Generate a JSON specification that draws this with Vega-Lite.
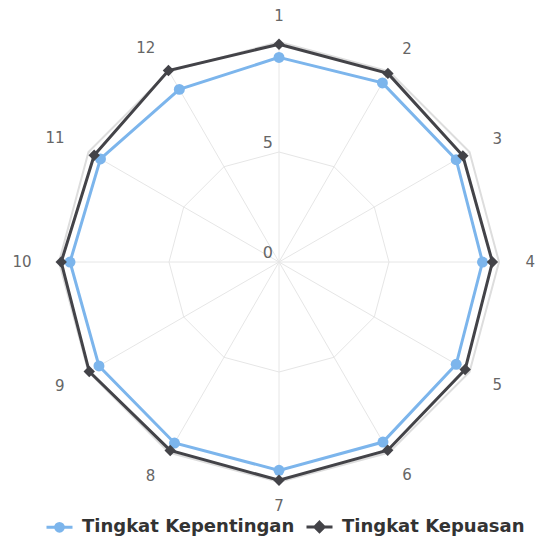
{
  "$schema": "https://vega.github.io/schema/vega-lite/v6.json",
  "width": 535,
  "height": 538,
  "autosize": {"type": "none"},
  "padding": 0,
  "background": "white",
  "config": {"view": {"stroke": null}},
  "datasets": {
    "scores": [
      {"axis": 1, "series": "Tingkat Kepentingan", "value": 9.3},
      {"axis": 2, "series": "Tingkat Kepentingan", "value": 9.4},
      {"axis": 3, "series": "Tingkat Kepentingan", "value": 9.3},
      {"axis": 4, "series": "Tingkat Kepentingan", "value": 9.25},
      {"axis": 5, "series": "Tingkat Kepentingan", "value": 9.3},
      {"axis": 6, "series": "Tingkat Kepentingan", "value": 9.45},
      {"axis": 7, "series": "Tingkat Kepentingan", "value": 9.47},
      {"axis": 8, "series": "Tingkat Kepentingan", "value": 9.5},
      {"axis": 9, "series": "Tingkat Kepentingan", "value": 9.45},
      {"axis": 10, "series": "Tingkat Kepentingan", "value": 9.5},
      {"axis": 11, "series": "Tingkat Kepentingan", "value": 9.37},
      {"axis": 12, "series": "Tingkat Kepentingan", "value": 9.06},
      {"axis": 1, "series": "Tingkat Kepuasan", "value": 9.9},
      {"axis": 2, "series": "Tingkat Kepuasan", "value": 9.9},
      {"axis": 3, "series": "Tingkat Kepuasan", "value": 9.65},
      {"axis": 4, "series": "Tingkat Kepuasan", "value": 9.7},
      {"axis": 5, "series": "Tingkat Kepuasan", "value": 9.77},
      {"axis": 6, "series": "Tingkat Kepuasan", "value": 9.88},
      {"axis": 7, "series": "Tingkat Kepuasan", "value": 9.92},
      {"axis": 8, "series": "Tingkat Kepuasan", "value": 9.89},
      {"axis": 9, "series": "Tingkat Kepuasan", "value": 9.96},
      {"axis": 10, "series": "Tingkat Kepuasan", "value": 9.9},
      {"axis": 11, "series": "Tingkat Kepuasan", "value": 9.7},
      {"axis": 12, "series": "Tingkat Kepuasan", "value": 10.05}
    ],
    "grid": [
      {"axis": 1, "value": 5}, {"axis": 2, "value": 5}, {"axis": 3, "value": 5}, {"axis": 4, "value": 5},
      {"axis": 5, "value": 5}, {"axis": 6, "value": 5}, {"axis": 7, "value": 5}, {"axis": 8, "value": 5},
      {"axis": 9, "value": 5}, {"axis": 10, "value": 5}, {"axis": 11, "value": 5}, {"axis": 12, "value": 5},
      {"axis": 1, "value": 10}, {"axis": 2, "value": 10}, {"axis": 3, "value": 10}, {"axis": 4, "value": 10},
      {"axis": 5, "value": 10}, {"axis": 6, "value": 10}, {"axis": 7, "value": 10}, {"axis": 8, "value": 10},
      {"axis": 9, "value": 10}, {"axis": 10, "value": 10}, {"axis": 11, "value": 10}, {"axis": 12, "value": 10}
    ],
    "labels": [
      {"axis": 1, "label": "1"}, {"axis": 2, "label": "2"}, {"axis": 3, "label": "3"}, {"axis": 4, "label": "4"},
      {"axis": 5, "label": "5"}, {"axis": 6, "label": "6"}, {"axis": 7, "label": "7"}, {"axis": 8, "label": "8"},
      {"axis": 9, "label": "9"}, {"axis": 10, "label": "10"}, {"axis": 11, "label": "11"}, {"axis": 12, "label": "12"}
    ],
    "radial": [{"value": 0, "label": "0"}, {"value": 5, "label": "5"}]
  },
  "encoding": {
    "x": {"field": "x", "type": "quantitative", "scale": {"domain": [-12.682, 11.636], "nice": false, "zero": false}, "axis": null},
    "y": {"field": "y", "type": "quantitative", "scale": {"domain": [-12.545, 11.909], "nice": false, "zero": false}, "axis": null}
  },
  "layer": [
    {
      "data": {"name": "grid"},
      "transform": [
        {"filter": "datum.value == 10"},
        {"calculate": "(datum.axis - 1) * PI / 6", "as": "a"},
        {"calculate": "datum.value * sin(datum.a)", "as": "x"},
        {"calculate": "datum.value * cos(datum.a)", "as": "y"}
      ],
      "mark": {"type": "rule", "stroke": "#e6e6e6", "strokeWidth": 1},
      "encoding": {
        "x": {"datum": 0, "type": "quantitative"},
        "y": {"datum": 0, "type": "quantitative"},
        "x2": {"field": "x"},
        "y2": {"field": "y"}
      }
    },
    {
      "data": {"name": "grid"},
      "transform": [
        {"filter": "datum.value == 5"},
        {"calculate": "(datum.axis - 1) * PI / 6", "as": "a"},
        {"calculate": "datum.value * sin(datum.a)", "as": "x"},
        {"calculate": "datum.value * cos(datum.a)", "as": "y"}
      ],
      "mark": {"type": "line", "interpolate": "linear-closed", "stroke": "#e6e6e6", "strokeWidth": 1},
      "encoding": {"order": {"field": "axis", "type": "quantitative"}}
    },
    {
      "data": {"name": "grid"},
      "transform": [
        {"filter": "datum.value == 10"},
        {"calculate": "(datum.axis - 1) * PI / 6", "as": "a"},
        {"calculate": "datum.value * sin(datum.a)", "as": "x"},
        {"calculate": "datum.value * cos(datum.a)", "as": "y"}
      ],
      "mark": {"type": "line", "interpolate": "linear-closed", "stroke": "#dddddd", "strokeWidth": 2},
      "encoding": {"order": {"field": "axis", "type": "quantitative"}}
    },
    {
      "data": {"name": "radial"},
      "transform": [
        {"calculate": "0", "as": "x"},
        {"calculate": "datum.value", "as": "y"}
      ],
      "mark": {"type": "text", "align": "right", "baseline": "alphabetic", "dx": -6, "dy": -4, "font": "DejaVu Sans", "fontSize": 16, "fill": "#666666"},
      "encoding": {"text": {"field": "label", "type": "nominal"}}
    },
    {
      "data": {"name": "labels"},
      "transform": [
        {"filter": "datum.axis == 1 || datum.axis == 7"},
        {"calculate": "(datum.axis - 1) * PI / 6", "as": "a"},
        {"calculate": "11.15 * sin(datum.a)", "as": "x"},
        {"calculate": "11.15 * cos(datum.a)", "as": "y"}
      ],
      "mark": {"type": "text", "align": "center", "baseline": "middle", "dy": -1, "font": "DejaVu Sans", "fontSize": 15, "fill": "#666666"},
      "encoding": {"text": {"field": "label", "type": "nominal"}}
    },
    {
      "data": {"name": "labels"},
      "transform": [
        {"filter": "datum.axis > 1 && datum.axis < 7"},
        {"calculate": "(datum.axis - 1) * PI / 6", "as": "a"},
        {"calculate": "11.2 * sin(datum.a)", "as": "x"},
        {"calculate": "11.2 * cos(datum.a)", "as": "y"}
      ],
      "mark": {"type": "text", "align": "left", "baseline": "middle", "font": "DejaVu Sans", "fontSize": 15, "fill": "#666666"},
      "encoding": {"text": {"field": "label", "type": "nominal"}}
    },
    {
      "data": {"name": "labels"},
      "transform": [
        {"filter": "datum.axis > 7"},
        {"calculate": "(datum.axis - 1) * PI / 6", "as": "a"},
        {"calculate": "11.25 * sin(datum.a)", "as": "x"},
        {"calculate": "11.25 * cos(datum.a)", "as": "y"}
      ],
      "mark": {"type": "text", "align": "right", "baseline": "middle", "font": "DejaVu Sans", "fontSize": 15, "fill": "#666666"},
      "encoding": {"text": {"field": "label", "type": "nominal"}}
    },
    {
      "data": {"name": "scores"},
      "transform": [
        {"filter": "datum.series == 'Tingkat Kepentingan'"},
        {"calculate": "(datum.axis - 1) * PI / 6", "as": "a"},
        {"calculate": "datum.value * sin(datum.a)", "as": "x"},
        {"calculate": "datum.value * cos(datum.a)", "as": "y"}
      ],
      "mark": {"type": "line", "interpolate": "linear-closed", "stroke": "#7cb5ec", "strokeWidth": 3},
      "encoding": {"order": {"field": "axis", "type": "quantitative"}}
    },
    {
      "data": {"name": "scores"},
      "transform": [
        {"filter": "datum.series == 'Tingkat Kepentingan'"},
        {"calculate": "(datum.axis - 1) * PI / 6", "as": "a"},
        {"calculate": "datum.value * sin(datum.a)", "as": "x"},
        {"calculate": "datum.value * cos(datum.a)", "as": "y"}
      ],
      "mark": {"type": "point", "shape": "circle", "filled": true, "size": 120, "fill": "#7cb5ec", "opacity": 1}
    },
    {
      "data": {"name": "scores"},
      "transform": [
        {"filter": "datum.series == 'Tingkat Kepuasan'"},
        {"calculate": "(datum.axis - 1) * PI / 6", "as": "a"},
        {"calculate": "datum.value * sin(datum.a)", "as": "x"},
        {"calculate": "datum.value * cos(datum.a)", "as": "y"}
      ],
      "mark": {"type": "line", "interpolate": "linear-closed", "stroke": "#434348", "strokeWidth": 3},
      "encoding": {"order": {"field": "axis", "type": "quantitative"}}
    },
    {
      "data": {"name": "scores"},
      "transform": [
        {"filter": "datum.series == 'Tingkat Kepuasan'"},
        {"calculate": "(datum.axis - 1) * PI / 6", "as": "a"},
        {"calculate": "datum.value * sin(datum.a)", "as": "x"},
        {"calculate": "datum.value * cos(datum.a)", "as": "y"}
      ],
      "mark": {"type": "point", "shape": "diamond", "filled": true, "size": 130, "fill": "#434348", "opacity": 1}
    },
    {
      "data": {"name": "scores"},
      "transform": [{"filter": "false"}],
      "mark": {"type": "point", "filled": true, "strokeWidth": 3, "opacity": 1},
      "encoding": {
        "x": {"datum": 0, "type": "quantitative"},
        "y": {"datum": 0, "type": "quantitative"},
        "fill": {
          "field": "series", "type": "nominal",
          "scale": {"domain": ["Tingkat Kepentingan", "Tingkat Kepuasan"], "range": ["#7cb5ec", "#434348"]},
          "legend": {"orient": "none", "legendX": 45, "legendY": 512, "direction": "horizontal", "title": null, "symbolSize": 676, "symbolStrokeWidth": 3, "labelFont": "DejaVu Sans", "labelFontSize": 18, "labelFontWeight": "bold", "labelColor": "#333333", "labelOffset": 8, "labelLimit": 400, "columnPadding": 5, "padding": 0}
        },
        "stroke": {
          "field": "series", "type": "nominal",
          "scale": {"domain": ["Tingkat Kepentingan", "Tingkat Kepuasan"], "range": ["#7cb5ec", "#434348"]},
          "legend": {"orient": "none", "legendX": 45, "legendY": 512, "direction": "horizontal", "title": null, "symbolSize": 676, "symbolStrokeWidth": 3, "labelFont": "DejaVu Sans", "labelFontSize": 18, "labelFontWeight": "bold", "labelColor": "#333333", "labelOffset": 8, "labelLimit": 400, "columnPadding": 5, "padding": 0}
        },
        "shape": {
          "field": "series", "type": "nominal",
          "scale": {"domain": ["Tingkat Kepentingan", "Tingkat Kepuasan"], "range": ["M-1,0L1,0M0.3,0A0.3,0.3,0,1,1,-0.3,0A0.3,0.3,0,1,1,0.3,0Z", "M-1,0L1,0M0,-0.36L0.36,0L0,0.36L-0.36,0Z"]},
          "legend": {"orient": "none", "legendX": 45, "legendY": 512, "direction": "horizontal", "title": null, "symbolSize": 676, "symbolStrokeWidth": 3, "labelFont": "DejaVu Sans", "labelFontSize": 18, "labelFontWeight": "bold", "labelColor": "#333333", "labelOffset": 8, "labelLimit": 400, "columnPadding": 5, "padding": 0}
        }
      }
    }
  ]
}
